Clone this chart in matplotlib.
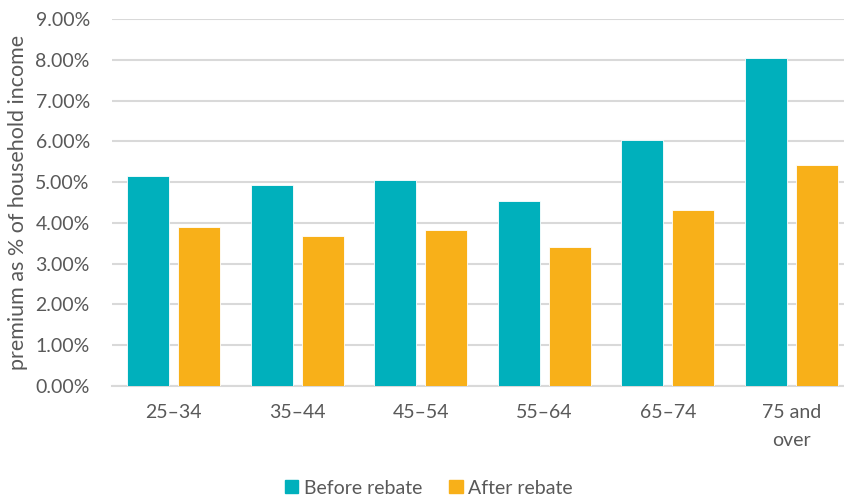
import numpy as np
import matplotlib.pyplot as plt
from matplotlib.ticker import FuncFormatter
from matplotlib.patches import Patch

# Premium as a share of household income, by age group
age_groups = ['25–34', '35–44', '45–54', '55–64', '65–74', '75 and\nover']
before_rebate = [5.15, 4.93, 5.06, 4.53, 6.04, 8.04]
after_rebate = [3.91, 3.69, 3.83, 3.42, 4.31, 5.42]

teal = '#00B0BC'
amber = '#F8B019'
text_grey = '#595959'
grid_grey = '#D9D9D9'

plt.rcParams['font.family'] = ['Lato', 'DejaVu Sans']

fig = plt.figure(figsize=(8.45, 5.01), dpi=100)
ax = fig.add_axes([112 / 845, 1 - 386 / 501, 741 / 845, 367 / 501])

x = np.arange(len(age_groups))
width = 0.34
offset = 0.208
ax.bar(x - offset, before_rebate, width, color=teal, edgecolor='white', linewidth=0.6, zorder=3)
ax.bar(x + offset, after_rebate, width, color=amber, edgecolor='white', linewidth=0.6, zorder=3)

ax.set_xlim(-0.5, len(age_groups) - 0.5)
ax.set_ylim(0, 9)
ax.set_yticks(np.arange(0, 10, 1))
ax.yaxis.set_major_formatter(FuncFormatter(lambda v, _: f'{v:.2f}%'))
ax.grid(axis='y', color=grid_grey, linewidth=1.5, zorder=0)

ax.set_xticks(x)
ax.set_xticklabels(age_groups, linespacing=1.75)
ax.tick_params(axis='both', length=0, colors=text_grey, labelsize=14)
ax.tick_params(axis='x', pad=13)
ax.tick_params(axis='y', pad=16)

for side in ['top', 'right', 'left']:
    ax.spines[side].set_visible(False)
ax.spines['bottom'].set_color(grid_grey)
ax.spines['bottom'].set_linewidth(1.5)

ax.set_ylabel('premium as % of household income', color=text_grey, fontsize=15.5)
ax.yaxis.set_label_coords(-0.113, 0.5)

handles = [Patch(color=teal, label='Before rebate'), Patch(color=amber, label='After rebate')]
fig.legend(handles=handles, loc='center', bbox_to_anchor=(429 / 845, 1 - 488 / 501), ncol=2,
           frameon=False, fontsize=14, labelcolor=text_grey, handlelength=0.67, handleheight=0.67,
           handletextpad=0.3, columnspacing=1.4)

fig.savefig('out.png', dpi=100)
